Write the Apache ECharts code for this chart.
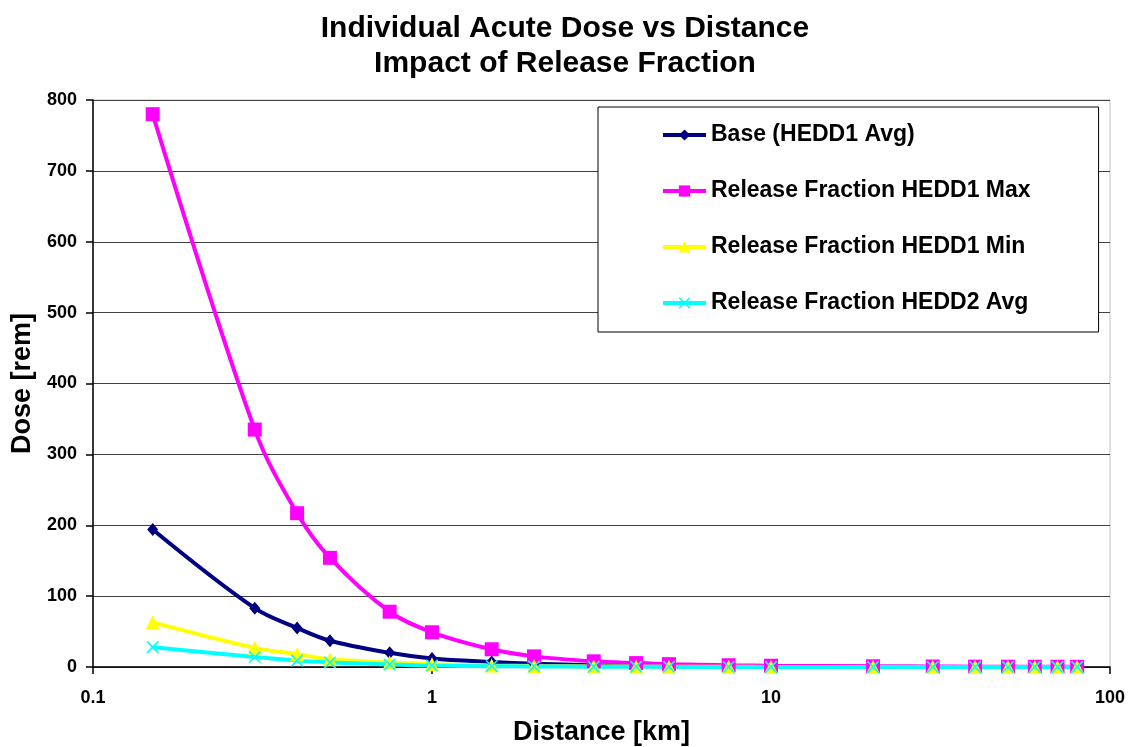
<!DOCTYPE html>
<html>
<head>
<meta charset="utf-8">
<script src="https://cdn.jsdelivr.net/npm/echarts@6/dist/echarts.min.js"></script>
<style>
  html, body { margin: 0; padding: 0; background: #fff; }
  #chart { width: 1130px; height: 747px; }
</style>
</head>
<body>
<div id="chart"></div>
<script>
// distances in km
const distances = [0.15, 0.3, 0.4, 0.5, 0.75, 1, 1.5, 2, 3, 4, 5, 7.5, 10, 20, 30, 40, 50, 60, 70, 80]

// dose in rem
const baseAvg = [194, 83, 55, 37, 20, 12, 7, 4.5, 2.5, 1.7, 1.2, 0.7, 0.5, 0.25, 0.15, 0.1, 0.08, 0.06, 0.05, 0.04]
const rfMax = [780, 335, 217, 154, 78, 49, 25, 15, 8, 5.5, 4, 2.5, 1.8, 1, 0.7, 0.5, 0.45, 0.4, 0.35, 0.3]
const rfMin = [63, 27, 18, 11, 6.5, 4, 2.2, 1.4, 0.8, 0.5, 0.4, 0.25, 0.17, 0.08, 0.05, 0.04, 0.03, 0.025, 0.02, 0.02]
const rfHedd2 = [28, 14, 9, 6.5, 3.5, 2, 1.2, 0.8, 0.45, 0.3, 0.2, 0.13, 0.1, 0.05, 0.03, 0.02, 0.015, 0.012, 0.01, 0.01]

const seriesNames = [
  'Base (HEDD1 Avg)',
  'Release Fraction HEDD1 Max',
  'Release Fraction HEDD1 Min',
  'Release Fraction HEDD2 Avg'
]

const xTicks = [0.1, 1, 10, 100]
const yTicks = [0, 100, 200, 300, 400, 500, 600, 700, 800]

const font = 'Liberation Sans, Arial, sans-serif'
const crossPath = 'path://M0,0 L2,0 L10,8 L18,0 L20,0 L20,2 L12,10 L20,18 L20,20 L18,20 L10,12 L2,20 L0,20 L0,18 L8,10 L0,2 Z'

function pairs(ys) {
  return distances.map((d, i) => [d, ys[i]])
}

function lineSeries(name, ys, color, symbol, symbolSize) {
  return {
    name: name,
    type: 'line',
    data: pairs(ys),
    smooth: 0.35,
    symbol: symbol,
    symbolSize: symbolSize,
    showAllSymbol: true,
    lineStyle: { width: 4, color: color },
    itemStyle: { color: color },
    emphasis: { disabled: true }
  }
}

const chart = echarts.init(document.getElementById('chart'))

chart.setOption({
  animation: false,
  backgroundColor: '#fff',
  textStyle: { fontFamily: font },
  title: {
    text: 'Individual Acute Dose vs Distance\nImpact of Release Fraction',
    left: 'center',
    top: 6,
    textStyle: {
      fontFamily: font,
      fontWeight: 'bold',
      fontSize: 30,
      lineHeight: 35,
      color: '#000'
    }
  },
  grid: {
    left: 93,
    right: 20,
    top: 100,
    bottom: 80,
    outerBoundsMode: 'none',
    show: true,
    borderColor: '#c0c0c0',
    borderWidth: 1
  },
  legend: {
    orient: 'vertical',
    left: 598,
    top: 107,
    padding: [16, 68, 17, 63],
    itemGap: 32,
    itemWidth: 43,
    itemHeight: 14,
    borderColor: '#000',
    borderWidth: 1,
    backgroundColor: '#fff',
    lineStyle: { width: 4 },
    data: seriesNames,
    textStyle: {
      fontFamily: font,
      fontWeight: 'bold',
      fontSize: 23,
      lineHeight: 24,
      color: '#000'
    }
  },
  xAxis: {
    type: 'log',
    logBase: 10,
    min: xTicks[0],
    max: xTicks[xTicks.length - 1],
    name: 'Distance [km]',
    nameLocation: 'middle',
    nameGap: 52,
    nameTextStyle: { fontFamily: font, fontWeight: 'bold', fontSize: 27, color: '#000' },
    axisLine: { lineStyle: { color: '#000', width: 1.5 } },
    axisTick: { show: true, inside: false, length: 7, lineStyle: { color: '#000', width: 1.5 } },
    minorTick: { show: false },
    splitLine: { show: false },
    axisLabel: {
      margin: 22,
      fontFamily: font,
      fontWeight: 'bold',
      fontSize: 18,
      color: '#000',
      formatter: (v) => String(+v.toPrecision(3))
    }
  },
  yAxis: {
    type: 'value',
    min: yTicks[0],
    max: yTicks[yTicks.length - 1],
    interval: 100,
    name: 'Dose [rem]',
    nameLocation: 'middle',
    nameGap: 47,
    nameTextStyle: { fontFamily: font, fontWeight: 'bold', fontSize: 27, color: '#000' },
    axisLine: { show: true, lineStyle: { color: '#000', width: 1.5 } },
    axisTick: { show: true, inside: false, length: 7, lineStyle: { color: '#000', width: 1.5 } },
    splitLine: { show: true, lineStyle: { color: '#404040', width: 1.2 } },
    axisLabel: {
      margin: 16,
      fontFamily: font,
      fontWeight: 'bold',
      fontSize: 18,
      color: '#000'
    }
  },
  series: [
    lineSeries(seriesNames[0], baseAvg, '#000080', 'diamond', [11, 13]),
    lineSeries(seriesNames[1], rfMax, '#ff00ff', 'rect', 14),
    lineSeries(seriesNames[2], rfMin, '#ffff00', 'triangle', 14),
    lineSeries(seriesNames[3], rfHedd2, '#00ffff', crossPath, 12)
  ]
})
</script>
</body>
</html>
